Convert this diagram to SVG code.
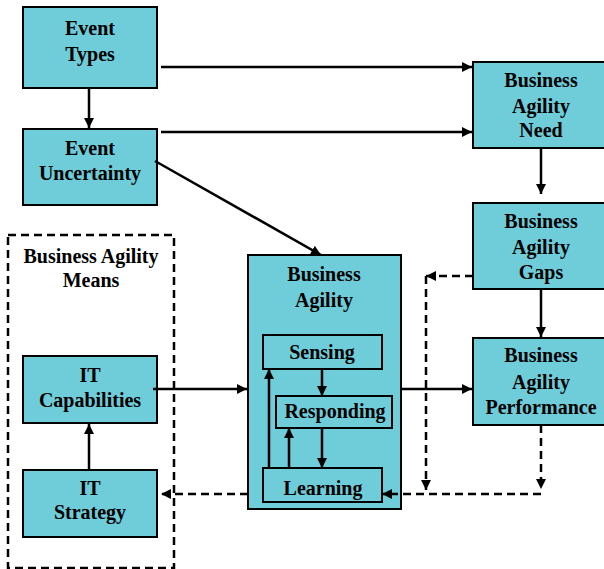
<svg xmlns="http://www.w3.org/2000/svg" width="604" height="569" viewBox="0 0 604 569">
<defs>
<marker id="ah" viewBox="0 0 10 10" refX="10" refY="5" markerWidth="4" markerHeight="4" markerUnits="strokeWidth" orient="auto">
<path d="M0,0 L10,5 L0,10 z" fill="#000"/>
</marker>
</defs>
<style>
.box{fill:#6fccd9;stroke:#000;stroke-width:2}
.t{font-family:"Liberation Serif","Times New Roman",serif;font-weight:bold;font-size:20px;text-anchor:middle;fill:#000}
.c{fill:none;stroke:#000;stroke-width:2.5}
.d{fill:none;stroke:#000;stroke-width:2.5;stroke-dasharray:8 5}
</style>
<rect x="0" y="0" width="604" height="569" fill="#fff"/>
<g id="means">
<rect x="8" y="235" width="166" height="333" fill="none" stroke="#000" stroke-width="2.5" stroke-dasharray="8 5"/>
<text class="t" x="91" y="263">Business Agility</text>
<text class="t" x="91" y="287">Means</text>
</g>
<g id="event-types">
<rect class="box" x="23" y="7" width="134" height="81"/>
<text class="t" x="90" y="35">Event</text>
<text class="t" x="90" y="61">Types</text>
</g>
<g id="event-uncertainty">
<rect class="box" x="23" y="129" width="134" height="76"/>
<text class="t" x="90" y="155">Event</text>
<text class="t" x="90" y="180">Uncertainty</text>
</g>
<g id="ba-need">
<rect class="box" x="473" y="62" width="133" height="86"/>
<text class="t" x="541" y="87">Business</text>
<text class="t" x="541" y="113">Agility</text>
<text class="t" x="541" y="137">Need</text>
</g>
<g id="ba-gaps">
<rect class="box" x="473" y="203" width="133" height="86"/>
<text class="t" x="541" y="228">Business</text>
<text class="t" x="541" y="254">Agility</text>
<text class="t" x="541" y="279">Gaps</text>
</g>
<g id="ba-performance">
<rect class="box" x="473" y="338" width="133" height="87"/>
<text class="t" x="541" y="362">Business</text>
<text class="t" x="541" y="389">Agility</text>
<text class="t" x="541" y="414">Performance</text>
</g>
<g id="business-agility">
<rect class="box" x="248" y="255" width="153" height="254"/>
<text class="t" x="324" y="281">Business</text>
<text class="t" x="324" y="307">Agility</text>
</g>
<g id="sensing">
<rect class="box" x="263" y="335" width="119" height="34"/>
<text class="t" x="322" y="359">Sensing</text>
</g>
<g id="responding">
<rect class="box" x="276" y="396" width="116" height="32"/>
<text class="t" x="335" y="418">Responding</text>
</g>
<g id="learning">
<rect class="box" x="263" y="468" width="119" height="34"/>
<text class="t" x="323" y="495">Learning</text>
</g>
<g id="it-capabilities">
<rect class="box" x="23" y="356" width="134" height="67"/>
<text class="t" x="90" y="382">IT</text>
<text class="t" x="90" y="407">Capabilities</text>
</g>
<g id="it-strategy">
<rect class="box" x="23" y="470" width="134" height="67"/>
<text class="t" x="90" y="495">IT</text>
<text class="t" x="90" y="519">Strategy</text>
</g>
<g id="connectors">
<line class="c" x1="89" y1="88" x2="89" y2="128" marker-end="url(#ah)"/>
<line class="c" x1="161" y1="67" x2="472" y2="67" marker-end="url(#ah)"/>
<line class="c" x1="161" y1="132" x2="472" y2="132" marker-end="url(#ah)"/>
<line class="c" x1="155" y1="161" x2="321" y2="255" marker-end="url(#ah)"/>
<line class="c" x1="541" y1="148" x2="541" y2="194" marker-end="url(#ah)"/>
<line class="c" x1="541" y1="289" x2="541" y2="337" marker-end="url(#ah)"/>
<line class="c" x1="153" y1="389" x2="247" y2="389" marker-end="url(#ah)"/>
<line class="c" x1="401" y1="389" x2="472" y2="389" marker-end="url(#ah)"/>
<line class="c" x1="89" y1="470" x2="89" y2="424" marker-end="url(#ah)"/>
<line class="c" x1="322" y1="369" x2="322" y2="396" marker-end="url(#ah)"/>
<line class="c" x1="322" y1="428" x2="322" y2="468" marker-end="url(#ah)"/>
<line class="c" x1="269" y1="468" x2="269" y2="369" marker-end="url(#ah)"/>
<line class="c" x1="289" y1="468" x2="289" y2="428" marker-end="url(#ah)"/>
<line class="d" x1="473" y1="276" x2="426" y2="276" marker-end="url(#ah)"/>
<line class="d" x1="426" y1="276" x2="426" y2="490" marker-end="url(#ah)"/>
<line class="d" x1="541" y1="425" x2="541" y2="489" marker-end="url(#ah)"/>
<polyline class="d" points="541,494 382,494" marker-end="url(#ah)"/>
<line class="d" x1="248" y1="494" x2="161" y2="494" marker-end="url(#ah)"/>
</g>
</svg>
